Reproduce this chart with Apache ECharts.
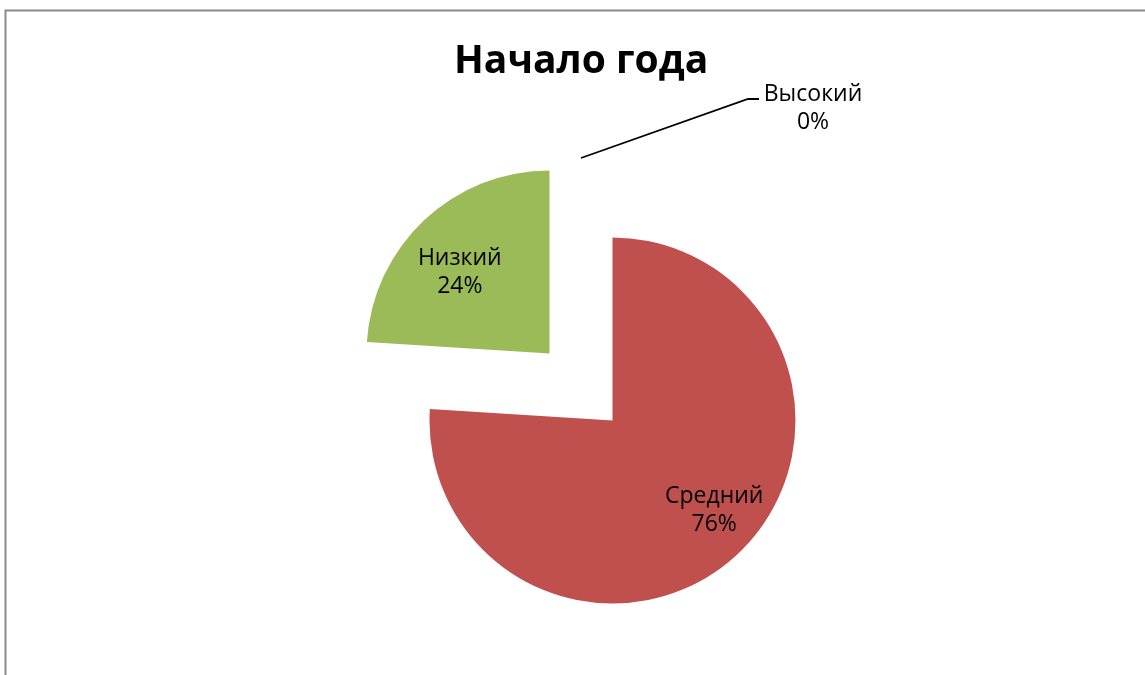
<!DOCTYPE html>
<html><head><meta charset="utf-8">
<script src="https://cdn.jsdelivr.net/npm/echarts@6/dist/echarts.min.js"></script>
<style>html,body{margin:0;padding:0;background:#fff}#c{width:1145px;height:675px}</style>
</head><body><div id="c"></div>
<script>
const titleText = 'Начало года';
const categories = ['Высокий', 'Средний', 'Низкий'];
const values = [0, 76, 24];
const colors = ['#4F81BD', '#C0504D', '#9BBB59'];

const chart = echarts.init(document.getElementById('c'), null, {renderer: 'canvas'});
const FONT = '"Open Sans", "Noto Sans", sans-serif';
const total = values.reduce((a, b) => a + b, 0);

const data = categories.map((name, i) => ({
  name: name,
  value: values[i],
  selected: true,
  itemStyle: {color: colors[i]},
  label: {position: values[i] === 0 ? 'outside' : 'inside'},
  labelLine: {show: values[i] === 0}
}));

// label offsets (layout only)
const insideShift = {1: [37, 21], 2: [-25, -12]};

chart.setOption({
  animation: false,
  backgroundColor: '#fff',
  title: {
    text: titleText,
    left: 449,
    top: 37,
    textStyle: {fontFamily: FONT, fontSize: 39, fontWeight: 'bold', color: '#000'}
  },
  graphic: [{
    type: 'polyline',
    silent: true,
    shape: {points: [[5.5, 675], [5.5, 10.5], [1145, 10.5]]},
    style: {stroke: '#8a8a8a', lineWidth: 2, fill: null}
  }],
  series: [{
    type: 'pie',
    center: [581, 387],
    radius: [0, 183],
    startAngle: 90,
    clockwise: true,
    selectedMode: 'multiple',
    selectedOffset: 46,
    avoidLabelOverlap: false,
    emphasis: {disabled: true},
    label: {
      show: true,
      fontFamily: FONT,
      fontSize: 23,
      lineHeight: 28,
      color: '#000',
      align: 'center',
      formatter: p => p.name + '\n' + Math.round(p.value / total * 100) + '%'
    },
    labelLine: {lineStyle: {color: '#000', width: 1.8}, length: 20, length2: 10},
    labelLayout: function (params) {
      const i = params.dataIndex;
      const r = params.labelRect;
      if (values[i] === 0 && params.labelLinePoints) {
        const s = params.labelLinePoints[0];
        const tx = s[0] + 232, ty = s[1] - 50;
        let ax = r.x + r.width / 2;
        if (params.align === 'right') ax = r.x + r.width;
        else if (params.align === 'left') ax = r.x;
        return {
          align: 'center',
          dx: tx - ax,
          dy: ty - (r.y + r.height / 2),
          labelLinePoints: [[s[0], s[1]], [s[0] + 167, s[1] - 59], [s[0] + 178, s[1] - 59]]
        };
      }
      const d = insideShift[i] || [0, 0];
      return {dx: d[0], dy: d[1]};
    },
    data: data
  }]
});
</script>
</body></html>
